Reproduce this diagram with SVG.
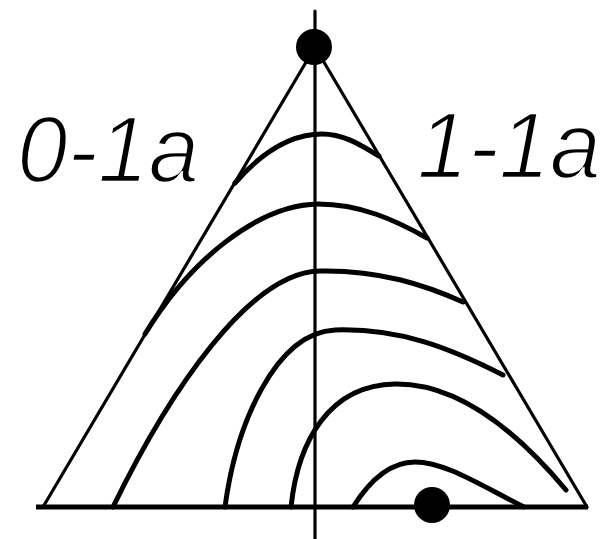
<svg xmlns="http://www.w3.org/2000/svg" width="609" height="539" viewBox="0 0 609 539">
<style>
.thin{fill:none;stroke:#000;stroke-width:3.2;stroke-linecap:round;stroke-linejoin:round}
.thick{fill:none;stroke:#000;stroke-width:5;stroke-linecap:round;stroke-linejoin:round}
.lbl{font-family:"Liberation Sans",Arial,sans-serif;font-style:italic;font-size:95px;fill:#000;stroke:#fff;stroke-width:2.4}
</style>
<rect width="609" height="539" fill="#fff"/>
<g id="axes">
<line class="thin" x1="315" y1="11" x2="315" y2="539"/>
<line x1="36" y1="507" x2="588" y2="507" stroke="#000" stroke-width="5"/>
<polyline class="thin" points="43,507 315,47 587,507"/>
</g>
<g id="curves">
<path class="thick" d="M235,183 C262,152 292,134 322,134 C345,134 362,146 379,156"/>
<path class="thick" d="M145,334 C190,260 258,205 318,204 C360,204 395,220 427,238"/>
<path class="thick" d="M113,507 C170,390 250,272 320,271 C380,270 425,285 463,302"/>
<path class="thick" d="M225,507 C236,425 275,333 335,330 C400,328 450,348 503,375"/>
<path class="thick" d="M291,507 C298,440 330,385 395,384 C460,383 520,435 566,490"/>
<path class="thick" d="M353,507 C370,480 390,462 415,462 C445,462 480,485 524,507"/>
</g>
<g id="dots">
<circle cx="314" cy="47" r="18" fill="#000"/>
<circle cx="432" cy="505" r="18" fill="#000"/>
</g>
<g id="labels">
<text class="lbl" x="17" y="182" textLength="182" lengthAdjust="spacingAndGlyphs">0-1a</text>
<text class="lbl" x="417" y="178" textLength="184" lengthAdjust="spacingAndGlyphs">1-1a</text>
</g>
</svg>
